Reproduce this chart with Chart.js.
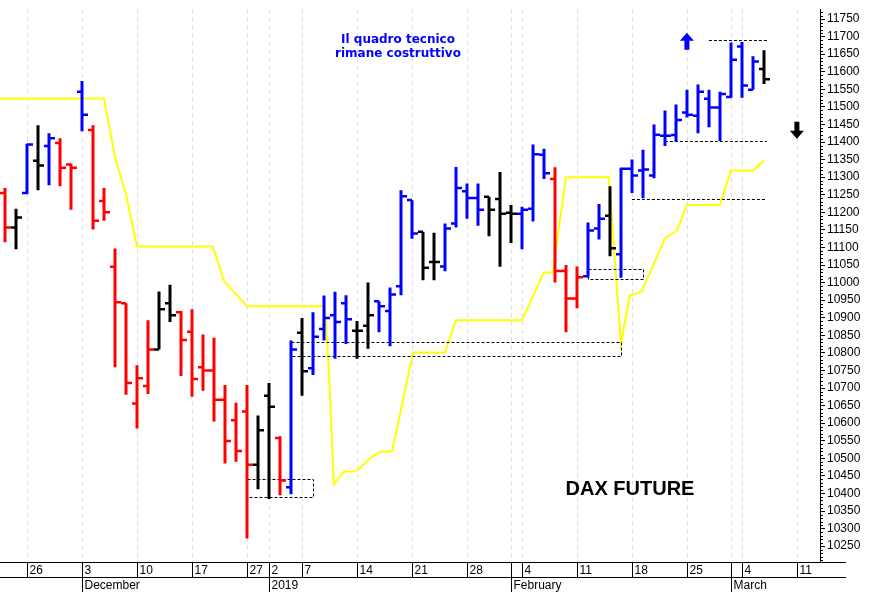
<!DOCTYPE html>
<html>
<head>
<meta charset="utf-8">
<script src="https://cdn.jsdelivr.net/npm/chart.js@4/dist/chart.umd.min.js"></script>
<style>
html, body { margin: 0; padding: 0; background: #fff; }
#wrap { width: 896px; height: 592px; }
</style>
</head>
<body>
<div id="wrap"><canvas id="chart" width="896" height="592"></canvas></div>
<script>
// trading day index: 0 = 26 Nov 2018
var barDay = [];
for (var d = -2; d <= 67; d++) barDay.push(d);
var barColor = ['RKBKBRRB', 'RRRRRR', 'KK', 'RRRRRRR', 'KK', 'R', 'BKBBBB', 'KK', 'BBBB', 'KK', 'BBBB', 'KKK', 'BBB', 'RRR', 'BBKB', 'BBBBBBBBBBBB', 'K'].join('');
var barOpen  = [11255,11157,11255,11347,11389,11397,11336,11543,11434,11232,11045,10941,10656,10706,10810,10941,10916,10860,10759,10750,10667,10608,10633,10482,10678,10558,10418,10857,10756,10868,10907,10941,10863,10877,10947,10919,10990,11235,11145,11059,11046,11168,11260,11241,11244,11238,11199,11196,11210,11364,11295,11033,10955,11018,11154,11190,11081,11324,11319,11305,11418,11420,11484,11475,11523,11498,11528,11672,11549,11608];
var barHigh  = [11269,11210,11395,11448,11425,11411,11339,11574,11448,11269,11097,10941,10765,10893,10975,10994,10919,10924,10852,10843,10709,10658,10709,10622,10714,10563,10835,10899,10916,10963,10974,10964,10891,11000,10947,10986,11263,11235,11145,11142,11168,11329,11282,11282,11244,11315,11221,11216,11393,11381,11328,11050,11046,11171,11224,11274,11327,11350,11378,11450,11490,11507,11549,11564,11549,11543,11683,11685,11644,11661];
var barLow   = [11115,11095,11252,11263,11277,11274,11207,11431,11151,11176,10759,10681,10585,10683,10810,10888,10734,10675,10692,10605,10485,10490,10272,10412,10384,10395,10398,10678,10737,10835,10783,10825,10783,10812,10859,10819,10964,11125,11007,11007,11032,11157,11182,11162,11132,11045,11113,11095,11174,11295,11000,10859,10927,11015,11123,11075,11014,11255,11240,11297,11389,11400,11470,11425,11442,11403,11526,11526,11549,11565];
var barClose = [11157,11185,11393,11333,11411,11327,11327,11478,11176,11200,10944,10714,10728,10810,10924,10907,10837,10726,10750,10667,10549,10521,10482,10580,10647,10437,10810,10748,10846,10899,10888,10896,10863,10907,10933,10966,11246,11140,11042,11059,11154,11269,11241,11207,11207,11196,11196,11207,11365,11311,11033,10955,11015,11148,11182,11098,11324,11305,11322,11421,11418,11463,11478,11543,11498,11537,11634,11561,11629,11579];

// yellow line
var lineDay = [-2.45,7,8,9,10,16.9,17.9,20,27.1,27.5,27.9,28.8,30,31.4,32.1,33.2,35.1,38,39,45,47,47.8,49,52.9,54,54.8,55.9,58,59.1,60,63,64,66,67];
var lineVal = [11524,11524,11358,11252,11103,11103,11005,10933,10933,10714,10426,10462,10465,10505,10518,10520,10801,10801,10893,10893,11029,11029,11300,11300,10826,10963,10975,11126,11148,11221,11221,11319,11319,11347];

// dashed support/resistance boxes: [fromDay, toDay, low, high]
var boxes = [[20,26,10390,10440],[24,54,10790,10832],[51,56,11011,11039]];
var levels = [[55,67,11239],[58,67,11403],[62,67,11689]];

// x axis labels
var tickDay = [0,5,10,15,20,22,25,30,35,40,44,45,50,55,60,64,65,70];
var tickText = ['26','3','10','17','27','2','7','14','21','28','','4','11','18','25','','4','11'];
var monthDay = [5,22,44,64];
var monthText = ['December','2019','February','March'];

var yTicks = [];
for (var v = 10250; v <= 11750; v += 50) yTicks.push(v);

var colorMap = { R: '#ff0000', B: '#0000ff', K: '#000000' };

var drawPlugin = {
	id: 'drawPlugin',
	beforeDatasetsDraw: function (chart) {
		var c = chart.ctx, xs = chart.scales.x, a = chart.chartArea;
		c.save();
		// vertical grid
		c.strokeStyle = '#d6d6f2';
		c.lineWidth = 1;
		c.setLineDash([4, 4]);
		tickDay.forEach(function (d) {
			var x = Math.round(xs.getPixelForValue(d)) + 0.5;
			c.beginPath(); c.moveTo(x, a.top); c.lineTo(x, a.bottom); c.stroke();
		});
		c.restore();
	},
	afterDatasetsDraw: function (chart) {
		var c = chart.ctx, xs = chart.scales.x, ys = chart.scales.y, a = chart.chartArea;
		c.save();
		c.beginPath(); c.rect(a.left, a.top, a.right - a.left, a.bottom - a.top); c.clip();
		// dashed boxes
		c.strokeStyle = '#000';
		c.lineWidth = 1;
		c.setLineDash([3, 2]);
		boxes.forEach(function (b) {
			var x1 = Math.round(xs.getPixelForValue(b[0])) + 0.5, x2 = Math.round(xs.getPixelForValue(b[1])) + 0.5;
			var y1 = Math.round(ys.getPixelForValue(b[3])) + 0.5, y2 = Math.round(ys.getPixelForValue(b[2])) + 0.5;
			c.strokeRect(x1, y1, x2 - x1, y2 - y1);
		});
		levels.forEach(function (l) {
			var x1 = xs.getPixelForValue(l[0]), x2 = xs.getPixelForValue(l[1]) + 3;
			var y = Math.round(ys.getPixelForValue(l[2])) + 0.5;
			c.beginPath(); c.moveTo(x1, y); c.lineTo(x2, y); c.stroke();
		});
		c.setLineDash([]);
		// OHLC bars
		for (var i = 0; i < barDay.length; i++) {
			var x = Math.round(xs.getPixelForValue(barDay[i]));
			c.strokeStyle = colorMap[barColor[i]];
			c.lineWidth = 3;
			c.beginPath();
			c.moveTo(x, ys.getPixelForValue(barHigh[i]));
			c.lineTo(x, ys.getPixelForValue(barLow[i]));
			c.stroke();
			c.lineWidth = 2.5;
			var yo = ys.getPixelForValue(barOpen[i]), yc = ys.getPixelForValue(barClose[i]);
			c.beginPath();
			c.moveTo(x - 5, yo); c.lineTo(x, yo);
			c.moveTo(x, yc); c.lineTo(x + 6, yc);
			c.stroke();
		}
		// arrows
		function arrow(d, v, col, up) {
			var x = xs.getPixelForValue(d), y = ys.getPixelForValue(v), s = up ? -1 : 1;
			c.fillStyle = col;
			c.beginPath();
			c.moveTo(x - 2.5, y - 9 * s); c.lineTo(x + 2.5, y - 9 * s); c.lineTo(x + 2.5, y); c.lineTo(x + 7, y);
			c.lineTo(x, y + 8 * s); c.lineTo(x - 7, y); c.lineTo(x - 2.5, y); c.closePath();
			c.fill();
		}
		arrow(60, 11688, '#0000ff', true);
		arrow(70, 11432, '#000000', false);
		c.restore();

		// texts
		c.save();
		c.fillStyle = '#0000ff';
		c.font = 'bold 12px "DejaVu Sans"';
		c.textAlign = 'center';
		c.textBaseline = 'middle';
		c.fillText('Il quadro tecnico', 398, 40);
		c.fillText('rimane costruttivo', 398, 54);
		c.fillStyle = '#000';
		c.font = 'bold 20px "Liberation Sans"';
		c.fillText('DAX FUTURE', 630, 489);
		c.restore();

		// bottom axis
		c.save();
		c.strokeStyle = '#000';
		c.lineWidth = 1;
		var right = 846;
		c.beginPath();
		c.moveTo(0, a.bottom + 0.5); c.lineTo(right, a.bottom + 0.5);
		c.moveTo(0, a.bottom + 15.5); c.lineTo(right, a.bottom + 15.5);
		c.stroke();
		c.fillStyle = '#000';
		c.font = '12px "Liberation Sans"';
		c.textAlign = 'left';
		c.textBaseline = 'middle';
		tickDay.forEach(function (d, k) {
			var x = Math.round(xs.getPixelForValue(d)) + 0.5;
			c.beginPath(); c.moveTo(x, a.bottom); c.lineTo(x, a.bottom + 15); c.stroke();
			c.fillText(tickText[k], x + 2, a.bottom + 8.5);
		});
		monthDay.forEach(function (d, k) {
			var x = Math.round(xs.getPixelForValue(d)) + 0.5;
			c.beginPath(); c.moveTo(x, a.bottom + 15); c.lineTo(x, 592); c.stroke();
			c.fillText(monthText[k], x + 2, a.bottom + 24);
		});
		// minor y ticks
		for (var v = 10210; v <= 11770; v += 10) {
			if (v % 50 === 0) continue;
			var y = Math.round(ys.getPixelForValue(v)) + 0.5;
			c.beginPath(); c.moveTo(a.right, y); c.lineTo(a.right + 3, y); c.stroke();
		}
		c.restore();
	}
};

var ctx = document.getElementById('chart').getContext('2d');
var chart = new Chart(ctx, {
	type: 'line',
	data: {
		datasets: [{
			data: lineDay.map(function (d, k) { return { x: d, y: lineVal[k] }; }),
			borderColor: '#ffff00',
			borderWidth: 2,
			pointRadius: 0,
			tension: 0
		}]
	},
	options: {
		responsive: false,
		animation: false,
		layout: { padding: { left: 0, right: 0, top: 0, bottom: 30 } },
		plugins: { legend: { display: false }, tooltip: { enabled: false } },
		scales: {
			x: { type: 'linear', min: -2.45, max: 72.1, display: false },
			y: {
				position: 'right',
				min: 10205, max: 11778,
				afterBuildTicks: function (s) { s.ticks = yTicks.map(function (v) { return { value: v }; }); },
				afterFit: function (s) { s.width = 76; },
				border: { display: true, color: '#000', width: 1 },
				grid: { drawOnChartArea: false, color: '#000', tickLength: 5 },
				ticks: {
					color: '#000', padding: 2,
					font: { family: 'Liberation Sans', size: 12 },
					callback: function (v) { return String(v); }
				}
			}
		}
	},
	plugins: [drawPlugin]
});
</script>
</body>
</html>
